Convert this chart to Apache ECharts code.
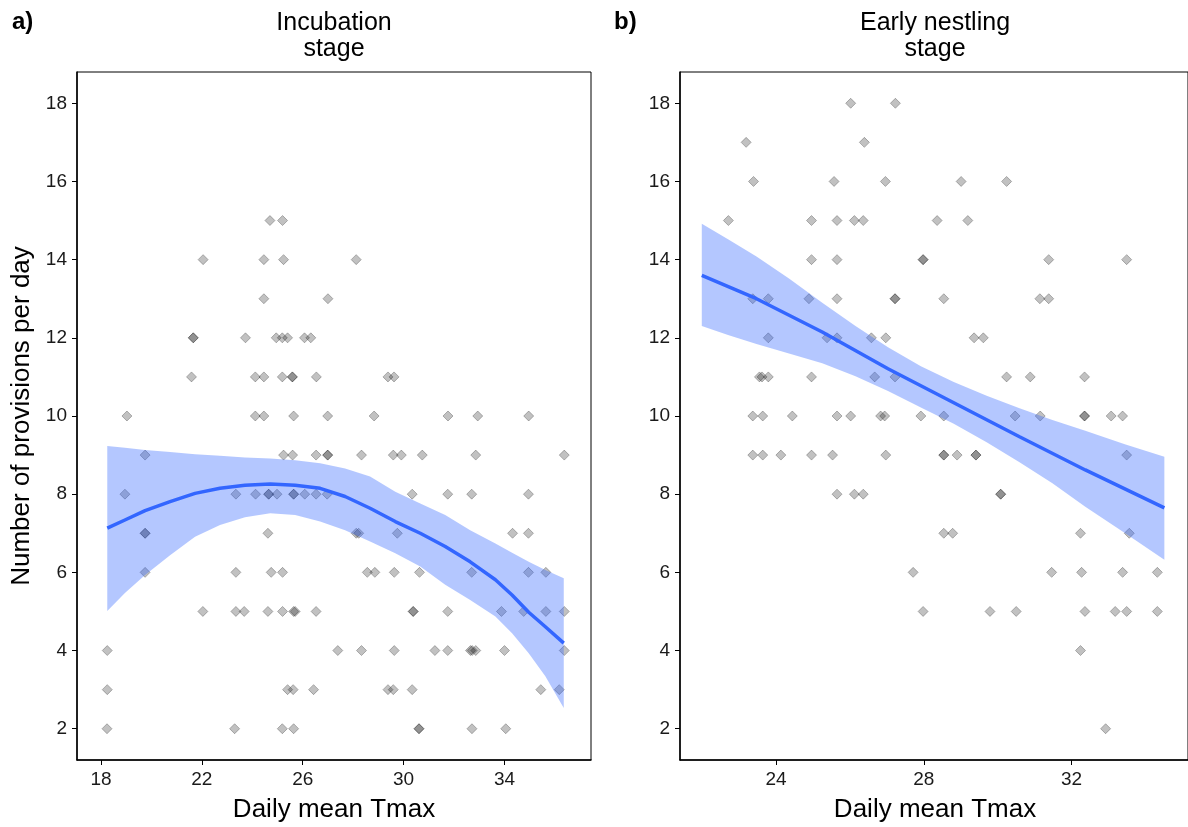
<!DOCTYPE html>
<html>
<head>
<meta charset="utf-8">
<script src="https://cdn.jsdelivr.net/npm/echarts@6/dist/echarts.min.js"></script>
<style>
  html, body { margin: 0; padding: 0; background: #fff; }
  #chart { width: 1188px; height: 827px; }
</style>
</head>
<body>
<div id="chart"></div>
<script>
// ---------- Panel a: incubation stage ----------
const incubationTmax = [
  18.24, 23.30, 25.19, 25.64, 30.61, 30.61, 32.71, 34.05,
  18.25, 25.40, 25.62, 26.43, 29.38, 29.59, 30.34, 35.44, 36.17,
  18.25, 27.39, 28.33, 29.63, 31.24, 31.75, 32.65, 32.72, 32.86, 34.00, 36.37,
  22.04, 23.35, 23.68, 24.62, 25.20, 25.64, 25.70, 26.53, 30.38, 30.38, 31.75, 33.88, 34.76, 35.64, 36.37,
  19.75, 23.35, 24.75, 25.20, 28.56, 28.86, 29.63, 30.63, 32.70, 34.95, 35.64,
  19.75, 19.75, 24.62, 28.12, 28.22, 29.75, 34.32, 34.95,
  18.95, 23.35, 24.13, 24.65, 24.65, 24.98, 25.64, 25.64, 26.08, 26.53, 26.97, 30.34, 31.75, 32.70, 34.95,
  19.75, 25.24, 25.60, 26.53, 26.99, 26.99, 28.33, 29.59, 29.91, 30.74, 32.86, 36.37,
  19.03, 24.12, 24.46, 25.64, 26.99, 28.83, 31.76, 32.94, 34.96,
  21.59, 24.12, 24.46, 25.19, 25.59, 25.59, 26.54, 29.38, 29.62,
  21.66, 21.66, 23.73, 24.95, 25.19, 25.40, 26.07, 26.32,
  24.46, 27.00,
  22.05, 24.46, 25.24, 28.12,
  24.70, 25.20
];
const incubationProvisions = [
  2, 2, 2, 2, 2, 2, 2, 2,
  3, 3, 3, 3, 3, 3, 3, 3, 3,
  4, 4, 4, 4, 4, 4, 4, 4, 4, 4, 4,
  5, 5, 5, 5, 5, 5, 5, 5, 5, 5, 5, 5, 5, 5, 5,
  6, 6, 6, 6, 6, 6, 6, 6, 6, 6, 6,
  7, 7, 7, 7, 7, 7, 7, 7,
  8, 8, 8, 8, 8, 8, 8, 8, 8, 8, 8, 8, 8, 8, 8,
  9, 9, 9, 9, 9, 9, 9, 9, 9, 9, 9, 9,
  10, 10, 10, 10, 10, 10, 10, 10, 10,
  11, 11, 11, 11, 11, 11, 11, 11, 11,
  12, 12, 12, 12, 12, 12, 12, 12,
  13, 13,
  14, 14, 14, 14,
  15, 15
];
// quadratic smoother with its confidence band
const incubationFitX = [18.25, 18.95, 19.75, 20.74, 21.73, 22.72, 23.71, 24.71, 25.70, 26.69, 27.68,
                        28.67, 29.67, 30.66, 31.65, 32.64, 33.64, 34.30, 34.96, 35.62, 36.35];
const incubationFit = [7.13, 7.34, 7.58, 7.81, 8.02, 8.15, 8.23, 8.26, 8.23, 8.15, 7.94,
                       7.64, 7.30, 7.00, 6.66, 6.27, 5.81, 5.42, 4.98, 4.61, 4.19];
const incubationUpper = [9.23, 9.19, 9.13, 9.08, 9.02, 8.98, 8.94, 8.91, 8.87, 8.79, 8.66,
                         8.45, 8.06, 7.76, 7.47, 7.08, 6.74, 6.50, 6.27, 6.06, 5.85];
const incubationLower = [5.01, 5.47, 5.93, 6.44, 6.91, 7.21, 7.41, 7.51, 7.47, 7.30, 7.08,
                         6.79, 6.49, 6.15, 5.68, 5.29, 4.87, 4.44, 3.93, 3.34, 2.53];

// ---------- Panel b: early nestling stage ----------
const nestlingTmax = [
  32.92,
  32.24,
  27.98, 29.79, 30.50, 32.36, 33.18, 33.49, 34.32,
  27.71, 31.46, 32.27, 33.38, 34.32,
  28.54, 28.78, 32.24, 33.56,
  25.65, 26.12, 26.36, 30.08, 30.08,
  23.37, 23.64, 24.13, 24.96, 25.53, 26.97, 28.54, 28.54, 28.90, 29.41, 29.41, 33.49,
  23.37, 23.64, 24.44, 25.65, 26.02, 26.83, 26.94, 27.92, 28.54, 30.47, 31.15, 32.35, 32.35, 33.07, 33.38,
  23.55, 23.62, 23.79, 24.96, 26.67, 27.22, 30.24, 30.88, 32.35,
  23.79, 25.38, 25.65, 26.58, 26.97, 29.36, 29.61,
  23.37, 23.79, 24.89, 25.65, 27.22, 27.22, 28.54, 31.14, 31.38,
  24.96, 25.65, 27.98, 27.98, 31.38, 33.49,
  22.71, 24.96, 25.65, 26.12, 26.36, 28.36, 29.19,
  23.39, 25.57, 26.96, 29.01, 30.24,
  23.19, 26.39,
  26.02, 27.23
];
const nestlingProvisions = [
  2,
  4,
  5, 5, 5, 5, 5, 5, 5,
  6, 6, 6, 6, 6,
  7, 7, 7, 7,
  8, 8, 8, 8, 8,
  9, 9, 9, 9, 9, 9, 9, 9, 9, 9, 9, 9,
  10, 10, 10, 10, 10, 10, 10, 10, 10, 10, 10, 10, 10, 10, 10,
  11, 11, 11, 11, 11, 11, 11, 11, 11,
  12, 12, 12, 12, 12, 12, 12,
  13, 13, 13, 13, 13, 13, 13, 13, 13,
  14, 14, 14, 14, 14, 14,
  15, 15, 15, 15, 15, 15, 15,
  16, 16, 16, 16, 16,
  17, 17,
  18, 18
];
// linear fit with its confidence band
const nestlingFitX = [21.99, 23.47, 25.25, 27.03, 28.81, 30.59, 32.37, 34.51];
const nestlingFit = [13.60, 13.00, 12.15, 11.21, 10.34, 9.47, 8.62, 7.65];
const nestlingBandX = [21.99, 22.70, 23.47, 24.35, 25.25, 26.15, 27.03, 27.92,
                       28.81, 29.70, 30.59, 31.48, 32.37, 33.44, 34.51];
const nestlingUpper = [14.92, 14.52, 14.08, 13.52, 12.90, 12.30, 11.76, 11.27,
                       10.87, 10.52, 10.20, 9.90, 9.62, 9.28, 8.96];
const nestlingLower = [12.30, 12.07, 11.84, 11.60, 11.35, 11.02, 10.64, 10.22,
                       9.80, 9.33, 8.82, 8.28, 7.68, 7.01, 6.32];

// ---------- axis ticks ----------
const incubationXTicks = [18, 22, 26, 30, 34];
const nestlingXTicks = [24, 28, 32];
const provisionTicks = [2, 4, 6, 8, 10, 12, 14, 16, 18];

const FONT = '"Liberation Sans", Arial, sans-serif';
const BLUE = '#3366FF';

function zip(xs, ys) { return xs.map((x, i) => [x, ys[i]]); }

function xAxisCfg(gridIndex, min, max, ticks) {
  return {
    type: 'value', gridIndex, min, max,
    axisLine: { show: true, onZero: false, lineStyle: { color: '#000', width: 1.5 } },
    axisTick: { show: true, length: 5, customValues: ticks, lineStyle: { color: '#000', width: 1 } },
    axisLabel: { customValues: ticks, fontSize: 19, color: '#1a1a1a', fontFamily: FONT, margin: 10 },
    splitLine: { show: false }
  };
}
function yAxisCfg(gridIndex) {
  return {
    type: 'value', gridIndex, min: 1.2, max: 18.8,
    axisLine: { show: true, onZero: false, lineStyle: { color: '#000', width: 1.5 } },
    axisTick: { show: true, length: 5, customValues: provisionTicks, lineStyle: { color: '#000', width: 1 } },
    axisLabel: { customValues: provisionTicks, fontSize: 19, color: '#1a1a1a', fontFamily: FONT, margin: 10 },
    splitLine: { show: false }
  };
}

function pointsSeries(idx, xs, ys) {
  return {
    type: 'scatter', xAxisIndex: idx, yAxisIndex: idx, z: 2, silent: true,
    symbol: 'diamond', symbolSize: 10,
    itemStyle: { color: 'rgba(0,0,0,0.30)', borderColor: 'rgba(0,0,0,0.32)', borderWidth: 1 },
    data: zip(xs, ys)
  };
}
function bandSeries(idx, xs, lo, hi) {
  return {
    type: 'custom', xAxisIndex: idx, yAxisIndex: idx, z: 3, silent: true,
    data: [[xs[0], lo[0]]],
    encode: { x: 0, y: 1 },
    renderItem: function (params, api) {
      const pts = [];
      for (let i = 0; i < xs.length; i++) pts.push(api.coord([xs[i], hi[i]]));
      for (let i = xs.length - 1; i >= 0; i--) pts.push(api.coord([xs[i], lo[i]]));
      return { type: 'polygon', shape: { points: pts }, style: { fill: 'rgba(51,102,255,0.37)' } };
    }
  };
}
function fitSeries(idx, xs, ys) {
  return {
    type: 'line', xAxisIndex: idx, yAxisIndex: idx, z: 4, silent: true,
    showSymbol: false, symbol: 'none',
    lineStyle: { color: BLUE, width: 3.5 },
    data: zip(xs, ys)
  };
}

function label(text, x, y, opts) {
  return Object.assign({
    type: 'text', x, y, silent: true,
    style: Object.assign({ text, fill: '#000', fontFamily: FONT, fontSize: 26,
      textAlign: 'center', textVerticalAlign: 'middle' }, (opts && opts.style) || {})
  }, opts && opts.rotation !== undefined ? { rotation: opts.rotation } : {});
}

const chart = echarts.init(document.getElementById('chart'), null, { renderer: 'canvas' });
chart.setOption({
  backgroundColor: '#fff',
  animation: false,
  grid: [
    { left: 77, top: 72, width: 514, height: 688, show: true, borderColor: '#000', borderWidth: 1, backgroundColor: 'transparent' },
    { left: 680, top: 72, width: 514.4, height: 688, show: true, borderColor: '#000', borderWidth: 1, backgroundColor: 'transparent' }
  ],
  xAxis: [
    xAxisCfg(0, 17.05, 37.43, incubationXTicks),
    xAxisCfg(1, 21.4, 35.15, nestlingXTicks)
  ],
  yAxis: [yAxisCfg(0), yAxisCfg(1)],
  series: [
    pointsSeries(0, incubationTmax, incubationProvisions),
    bandSeries(0, incubationFitX, incubationLower, incubationUpper),
    fitSeries(0, incubationFitX, incubationFit),
    pointsSeries(1, nestlingTmax, nestlingProvisions),
    bandSeries(1, nestlingBandX, nestlingLower, nestlingUpper),
    fitSeries(1, nestlingFitX, nestlingFit)
  ],
  graphic: [
    label('a)', 12, 22, { style: { textAlign: 'left', fontWeight: 'bold', fontSize: 24 } }),
    label('b)', 614, 22, { style: { textAlign: 'left', fontWeight: 'bold', fontSize: 24 } }),
    label('Incubation\nstage', 334, 36, { style: { lineHeight: 26, fontSize: 25 } }),
    label('Early nestling\nstage', 935, 36, { style: { lineHeight: 26, fontSize: 25 } }),
    label('Daily mean Tmax', 334, 810),
    label('Daily mean Tmax', 935, 810),
    label('Number of provisions per day', 22, 416, { rotation: Math.PI / 2 })
  ]
});
</script>
</body>
</html>
